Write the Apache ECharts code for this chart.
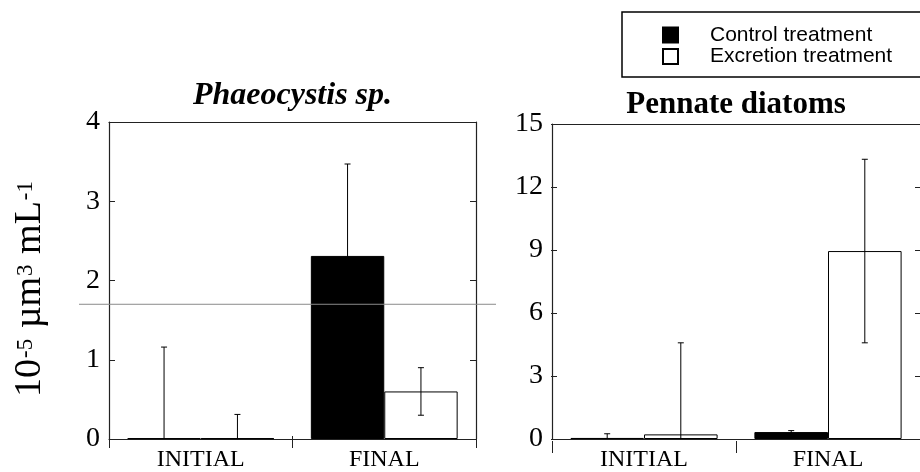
<!DOCTYPE html>
<html>
<head>
<meta charset="utf-8">
<script src="https://cdn.jsdelivr.net/npm/echarts@6/dist/echarts.min.js"></script>
<style>
html,body{margin:0;padding:0;background:#fff;}
#chart{width:920px;height:472px;}
</style>
</head>
<body>
<div id="chart"></div>
<script>
// ---- data ----
const categories = ['INITIAL', 'FINAL'];
const seriesNames = ['Control treatment', 'Excretion treatment'];
const phaeoControl = [0.01, 2.31];
const phaeoControlErr = [1.15, 1.16];
const phaeoExcretion = [0.01, 0.60];
const phaeoExcretionErr = [0.30, 0.30];
const pennateControl = [0.05, 0.33];
const pennateControlErr = [0.20, 0.07];
const pennateExcretion = [0.22, 8.95];
const pennateExcretionErr = [4.36, 4.37];
const phaeoTitle = 'Phaeocystis sp.';
const pennateTitle = 'Pennate diatoms';
const phaeoMax = 4, phaeoStep = 1;
const pennateMax = 15, pennateStep = 3;
const refLineValue = 1.70;

// ---- layout / style ----
const SERIF = "'Liberation Serif','Times New Roman',serif";
const SANS = "'Liberation Sans',Arial,sans-serif";
const frameColor = '#222';
const grids = [
  {left: 109, top: 122, width: 367, height: 320},
  {left: 552, top: 124, width: 369, height: 323}
];
const lineOn = {show: true, lineStyle: {color: frameColor, width: 1.2}};
const lineOff = {show: false};
const tickOn = {show: true, length: 6, lineStyle: {color: frameColor, width: 1}};
const tickOff = {show: false};

function errData(values, errs, side) {
  return values.map((v, i) => [i, v, errs[i], side]);
}

function renderErr(params, api) {
  const i = api.value(0), v = api.value(1), e = api.value(2), side = api.value(3);
  const band = api.size([1, 0])[0];
  const x = api.coord([i, v])[0] + side * 0.2 * band;
  const lo = Math.max(0, v - e), hi = v + e;
  const yHi = api.coord([i, hi])[1];
  const yLo = api.coord([i, lo])[1];
  const cap = 3;
  const st = {stroke: '#000', lineWidth: 1};
  const children = [
    {type: 'line', shape: {x1: x, y1: yLo, x2: x, y2: yHi}, style: st},
    {type: 'line', shape: {x1: x - cap, y1: yHi, x2: x + cap, y2: yHi}, style: st}
  ];
  if (v - e > 0) {
    children.push({type: 'line', shape: {x1: x - cap, y1: yLo, x2: x + cap, y2: yLo}, style: st});
  }
  return {type: 'group', children};
}

// 4 x axes per grid: labels at bottom, inward ticks at bottom, inward ticks at top, frame+title at top
function xAxes(gi, title, gap, titleStyle) {
  const h = grids[gi].height;
  const base = {type: 'category', gridIndex: gi, data: categories, splitLine: {show: false}};
  return [
    Object.assign({}, base, {
      position: 'bottom', axisLine: lineOn, axisTick: tickOff,
      axisLabel: {fontFamily: SERIF, fontSize: 24, color: '#000', margin: 9}
    }),
    Object.assign({}, base, {
      position: 'top', offset: -h, axisLine: lineOff, axisTick: tickOn, axisLabel: {show: false}
    }),
    Object.assign({}, base, {
      position: 'bottom', offset: -h, axisLine: lineOff, axisTick: tickOn, axisLabel: {show: false}
    }),
    Object.assign({}, base, {
      position: 'top', axisLine: lineOn, axisTick: tickOff, axisLabel: {show: false},
      name: title, nameLocation: 'middle', nameGap: gap,
      nameTextStyle: Object.assign({fontFamily: SERIF, color: '#000', fontWeight: 'bold'}, titleStyle)
    })
  ];
}

// 3 y axes per grid: labels+frame at left, inward ticks at left edge, frame+inward ticks at right edge
function yAxes(gi, max, step, extra) {
  const w = grids[gi].width;
  const base = {type: 'value', gridIndex: gi, min: 0, max: max, interval: step, splitLine: {show: false}};
  return [
    Object.assign({}, base, {
      position: 'left', axisLine: lineOn, axisTick: tickOff,
      axisLabel: {fontFamily: SERIF, fontSize: 28, color: '#000', margin: 9}
    }, extra || {}),
    Object.assign({}, base, {
      position: 'right', offset: -w, axisLine: lineOff, axisTick: tickOn, axisLabel: {show: false}
    }),
    Object.assign({}, base, {
      position: 'left', offset: -w, axisLine: lineOn, axisTick: tickOn, axisLabel: {show: false}
    })
  ];
}

const controlStyle = {color: '#000', borderColor: '#000', borderWidth: 1};
const excretionStyle = {color: '#fff', borderColor: '#000', borderWidth: 1};

function barSeries(name, data, gi, style) {
  return {
    type: 'bar', name: name, data: data,
    xAxisIndex: gi * 4, yAxisIndex: gi * 3,
    barGap: '0%', barCategoryGap: '20%',
    itemStyle: style, emphasis: {disabled: true}, z: 2
  };
}
function errSeries(data, gi) {
  return {
    type: 'custom', data: data, xAxisIndex: gi * 4, yAxisIndex: gi * 3,
    renderItem: renderErr, encode: {x: 0, y: 1}, z: 5, silent: true
  };
}

const yName = '{a|10}{s|-5}{a| µm}{s|3}{a| mL}{s|-1}';

const option = {
  animation: false,
  backgroundColor: '#fff',
  legend: {
    data: seriesNames,
    orient: 'vertical',
    left: 622, top: 12,
    padding: [12.5, 39, 10, 40],
    borderColor: '#000', borderWidth: 1.5,
    icon: 'rect', itemWidth: 15, itemHeight: 15, itemGap: 0.6,
    selectedMode: false,
    textStyle: {fontFamily: SANS, fontSize: 21, color: '#000', padding: [0, 0, 0, 27]}
  },
  grid: grids.map(g => Object.assign({containLabel: false}, g)),
  xAxis: [].concat(
    xAxes(0, phaeoTitle, 10, {fontSize: 32, fontStyle: 'italic'}),
    xAxes(1, pennateTitle, 4, {fontSize: 31})
  ),
  yAxis: [].concat(
    yAxes(0, phaeoMax, phaeoStep, {
      name: yName, nameLocation: 'middle', nameRotate: 90, nameGap: 60,
      nameTextStyle: {
        padding: [0, 16, 0, 0],
        rich: {
          a: {fontFamily: SERIF, fontSize: 38, lineHeight: 42, color: '#000', verticalAlign: 'bottom'},
          s: {fontFamily: SERIF, fontSize: 23, lineHeight: 42, color: '#000', verticalAlign: 'top', padding: [7, 1, 0, 1]}
        }
      }
    }),
    yAxes(1, pennateMax, pennateStep)
  ),
  series: [
    barSeries(seriesNames[0], phaeoControl, 0, controlStyle),
    barSeries(seriesNames[1], phaeoExcretion, 0, excretionStyle),
    barSeries(seriesNames[0], pennateControl, 1, controlStyle),
    barSeries(seriesNames[1], pennateExcretion, 1, excretionStyle),
    errSeries(errData(phaeoControl, phaeoControlErr, -1), 0),
    errSeries(errData(phaeoExcretion, phaeoExcretionErr, 1), 0),
    errSeries(errData(pennateControl, pennateControlErr, -1), 1),
    errSeries(errData(pennateExcretion, pennateExcretionErr, 1), 1)
  ]
};

const chart = echarts.init(document.getElementById('chart'), null, {renderer: 'canvas'});
chart.setOption(option);

// thin gray reference line across the left panel, positioned through the axis scale
const yRef = chart.convertToPixel({yAxisIndex: 0}, refLineValue);
chart.setOption({
  graphic: [{
    type: 'line', silent: true, z: 10,
    shape: {x1: grids[0].left - 30, y1: yRef, x2: grids[0].left + grids[0].width + 20, y2: yRef},
    style: {stroke: '#8a8a8a', lineWidth: 1}
  }]
});
</script>
</body>
</html>
